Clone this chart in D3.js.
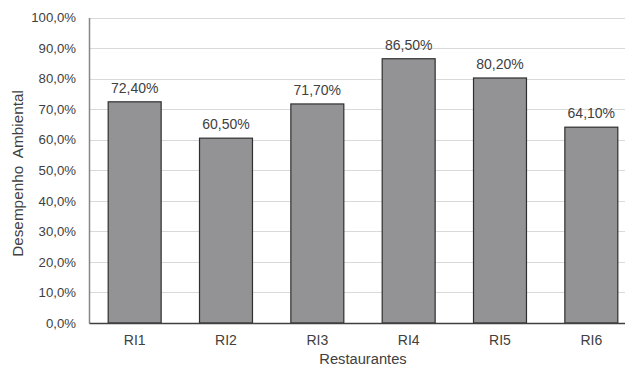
<!DOCTYPE html>
<html><head><meta charset="utf-8">
<script src="https://cdn.jsdelivr.net/npm/d3@7"></script>
<style>body{margin:0;background:#fff}svg{display:block}</style>
</head><body><svg id="c" width="625" height="367"></svg>
<script>
const categories = ["RI1","RI2","RI3","RI4","RI5","RI6"];
const values = [72.4, 60.5, 71.7, 86.5, 80.2, 64.1];
const valueLabels = ["72,40%","60,50%","71,70%","86,50%","80,20%","64,10%"];
const yTicks = [0,10,20,30,40,50,60,70,80,90,100];
const yTitle = "Desempenho  Ambiental";
const xTitle = "Restaurantes";

const svg = d3.select("#c");
const mLeft = 89, mRight = 637, mTop = 17.5, mBottom = 323;
const font = "'Liberation Sans', Arial, sans-serif";
const x = d3.scaleBand().domain(categories).range([mLeft, mRight]).paddingInner(0.42).paddingOuter(0.21);
const y = d3.scaleLinear().domain([0, 100]).range([mBottom, mTop]);
const fmt = v => v.toFixed(1).replace(".", ",") + "%";

// gridlines
svg.append("g").selectAll("line").data(yTicks.filter(t => t > 0)).join("line")
  .attr("x1", mLeft).attr("x2", mRight).attr("y1", d => Math.round(y(d)) + 0.5).attr("y2", d => Math.round(y(d)) + 0.5)
  .attr("stroke", "#d9d9d9").attr("stroke-width", 1);

// y axis
const ya = d3.axisLeft(y).tickValues(yTicks).tickFormat(fmt).tickSize(0).tickPadding(13);
const gy = svg.append("g").attr("transform", `translate(${mLeft},0)`).call(ya);
gy.select(".domain").attr("stroke", "#868686").attr("stroke-width", 1.5);
gy.selectAll("text").attr("font-family", font).attr("font-size", 13.2).attr("fill", "#404040");

// bars
svg.append("g").selectAll("rect").data(values).join("rect")
  .attr("x", (d, i) => x(categories[i])).attr("width", x.bandwidth())
  .attr("y", d => y(d)).attr("height", d => y(0) - y(d))
  .attr("fill", "#939396").attr("stroke", "#2f2f2f").attr("stroke-width", 1.2);

// value labels
svg.append("g").selectAll("text").data(values).join("text")
  .attr("x", (d, i) => x(categories[i]) + x.bandwidth() / 2).attr("y", d => y(d) - 9)
  .attr("text-anchor", "middle").attr("font-family", font).attr("font-size", 14).attr("fill", "#404040")
  .text((d, i) => valueLabels[i]);

// x axis
const xa = d3.axisBottom(x).tickSize(0).tickPadding(12);
const gx = svg.append("g").attr("transform", `translate(0,${mBottom})`).call(xa);
gx.select(".domain").attr("stroke", "#404040").attr("stroke-width", 1.5);
gx.selectAll("text").attr("font-family", font).attr("font-size", 14).attr("fill", "#404040");

// titles
svg.append("text").attr("x", (mLeft + mRight) / 2).attr("y", 364).attr("text-anchor", "middle")
  .attr("font-family", font).attr("font-size", 14.7).attr("fill", "#404040").text(xTitle);
svg.append("text").attr("transform", `translate(23,173.5) rotate(-90)`).attr("text-anchor", "middle")
  .attr("font-family", font).attr("font-size", 15.3).attr("fill", "#404040")
  .style("white-space", "pre").text(yTitle);
</script></body></html>
